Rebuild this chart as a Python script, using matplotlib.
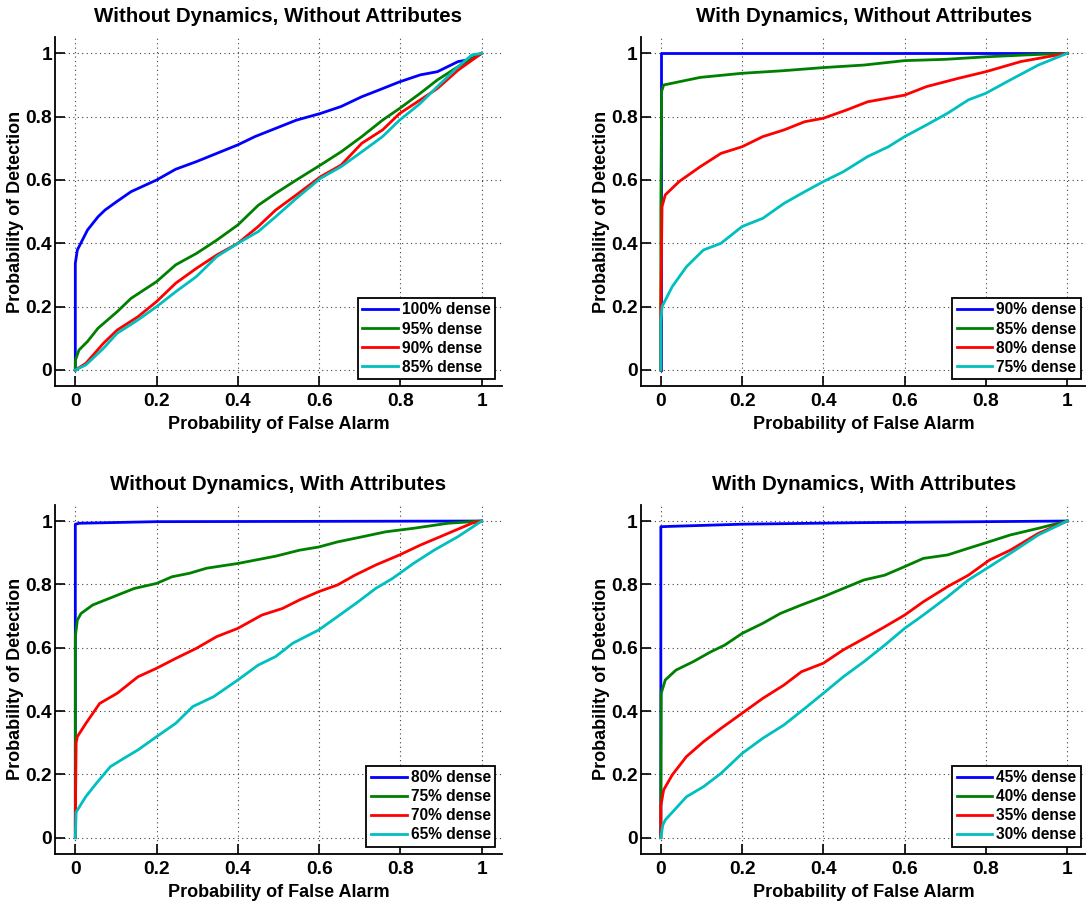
import matplotlib
matplotlib.use("Agg")
import matplotlib.pyplot as plt

plt.rcParams['font.family'] = ['Liberation Sans', 'DejaVu Sans']
plt.rcParams['font.weight'] = 'bold'

# ---------------- data ----------------
titles = ["Without Dynamics, Without Attributes", "With Dynamics, Without Attributes",
          "Without Dynamics, With Attributes", "With Dynamics, With Attributes"]
labels = [["100% dense", "95% dense", "90% dense", "85% dense"],
          ["90% dense", "85% dense", "80% dense", "75% dense"],
          ["80% dense", "75% dense", "70% dense", "65% dense"],
          ["45% dense", "40% dense", "35% dense", "30% dense"]]
xticks = [0, 0.2, 0.4, 0.6, 0.8, 1]
xtick_labels = ["0", "0.2", "0.4", "0.6", "0.8", "1"]

# Panel 1
p1_blue_x = [0, 0, 0.005, 0.03, 0.056, 0.073, 0.1, 0.137, 0.2, 0.247, 0.298, 0.35, 0.4, 0.442, 0.493, 0.544, 0.603, 0.654, 0.705, 0.747, 0.798, 0.849, 0.891, 0.942, 0.97, 1]
p1_blue_y = [0, 0.337, 0.379, 0.442, 0.484, 0.505, 0.53, 0.563, 0.6, 0.634, 0.658, 0.685, 0.711, 0.737, 0.763, 0.789, 0.81, 0.832, 0.863, 0.884, 0.91, 0.932, 0.942, 0.974, 0.98, 1]
p1_green_x = [0, 0, 0.009, 0.03, 0.056, 0.103, 0.137, 0.2, 0.247, 0.298, 0.348, 0.4, 0.45, 0.493, 0.544, 0.603, 0.654, 0.705, 0.756, 0.798, 0.849, 0.891, 0.942, 1]
p1_green_y = [0, 0.03, 0.063, 0.09, 0.132, 0.184, 0.226, 0.279, 0.332, 0.368, 0.41, 0.458, 0.52, 0.558, 0.6, 0.647, 0.689, 0.737, 0.789, 0.826, 0.874, 0.916, 0.958, 1]
p1_red_x = [0, 0.026, 0.069, 0.103, 0.154, 0.2, 0.247, 0.298, 0.348, 0.4, 0.45, 0.493, 0.544, 0.603, 0.654, 0.705, 0.756, 0.798, 0.849, 0.891, 0.942, 1]
p1_red_y = [0, 0.021, 0.084, 0.126, 0.168, 0.216, 0.274, 0.321, 0.363, 0.4, 0.453, 0.505, 0.553, 0.61, 0.647, 0.716, 0.758, 0.81, 0.853, 0.889, 0.947, 1]
p1_cyan_x = [0, 0.026, 0.069, 0.103, 0.154, 0.2, 0.247, 0.298, 0.348, 0.4, 0.45, 0.493, 0.544, 0.603, 0.654, 0.705, 0.756, 0.798, 0.849, 0.891, 0.942, 0.976, 1]
p1_cyan_y = [0, 0.016, 0.068, 0.116, 0.158, 0.2, 0.247, 0.295, 0.358, 0.4, 0.437, 0.484, 0.542, 0.605, 0.642, 0.689, 0.737, 0.789, 0.842, 0.895, 0.958, 0.995, 1]

# Panel 2
p2_blue_x = [0, 0, 1]
p2_blue_y = [0, 1, 1]
p2_green_x = [0, 0, 0.002, 0.007, 0.097, 0.2, 0.3, 0.4, 0.5, 0.6, 0.7, 0.8, 0.9, 1]
p2_green_y = [0, 0.5, 0.88, 0.9, 0.924, 0.937, 0.945, 0.955, 0.963, 0.977, 0.981, 0.989, 0.995, 1]
p2_red_x = [0, 0, 0.003, 0.011, 0.045, 0.097, 0.148, 0.2, 0.251, 0.303, 0.354, 0.4, 0.457, 0.509, 0.6, 0.654, 0.732, 0.8, 0.886, 0.99, 1]
p2_red_y = [0, 0.2, 0.516, 0.553, 0.595, 0.642, 0.684, 0.705, 0.737, 0.758, 0.784, 0.795, 0.821, 0.847, 0.868, 0.895, 0.921, 0.942, 0.974, 0.998, 1]
p2_cyan_x = [0, 0, 0.003, 0.028, 0.063, 0.105, 0.148, 0.2, 0.251, 0.303, 0.354, 0.4, 0.449, 0.509, 0.56, 0.6, 0.654, 0.706, 0.757, 0.8, 0.86, 0.929, 1]
p2_cyan_y = [0, 0.15, 0.2, 0.263, 0.326, 0.379, 0.4, 0.453, 0.479, 0.526, 0.563, 0.595, 0.626, 0.674, 0.705, 0.737, 0.774, 0.811, 0.853, 0.874, 0.916, 0.963, 1]

# Panel 3
p3_blue_x = [0, 0, 0.01, 0.2, 1]
p3_blue_y = [0, 0.99, 0.993, 0.998, 1]
p3_green_x = [0, 0, 0.005, 0.014, 0.043, 0.094, 0.145, 0.2, 0.238, 0.281, 0.323, 0.4, 0.493, 0.552, 0.599, 0.645, 0.705, 0.764, 0.832, 0.917, 1]
p3_green_y = [0, 0.635, 0.687, 0.708, 0.735, 0.761, 0.787, 0.803, 0.824, 0.835, 0.851, 0.866, 0.889, 0.908, 0.918, 0.934, 0.95, 0.966, 0.977, 0.993, 1]
p3_red_x = [0, 0, 0.002, 0.005, 0.026, 0.06, 0.103, 0.154, 0.2, 0.247, 0.298, 0.348, 0.4, 0.459, 0.51, 0.552, 0.599, 0.645, 0.688, 0.739, 0.798, 0.849, 0.908, 0.976, 1]
p3_red_y = [0, 0.05, 0.3, 0.319, 0.361, 0.424, 0.456, 0.508, 0.535, 0.566, 0.598, 0.635, 0.661, 0.703, 0.724, 0.751, 0.777, 0.798, 0.829, 0.861, 0.893, 0.924, 0.956, 0.993, 1]
p3_cyan_x = [0, 0.002, 0.005, 0.026, 0.052, 0.086, 0.12, 0.154, 0.2, 0.247, 0.289, 0.34, 0.4, 0.45, 0.493, 0.535, 0.599, 0.645, 0.696, 0.739, 0.781, 0.832, 0.883, 0.942, 1]
p3_cyan_y = [0, 0.08, 0.087, 0.13, 0.172, 0.224, 0.251, 0.277, 0.319, 0.361, 0.414, 0.445, 0.498, 0.545, 0.572, 0.614, 0.656, 0.698, 0.745, 0.787, 0.819, 0.866, 0.908, 0.951, 1]

# Panel 4
p4_blue_x = [0, 0, 0.02, 0.2, 0.5, 1]
p4_blue_y = [0, 0.982, 0.983, 0.99, 0.995, 1]
p4_green_x = [0, 0, 0.001, 0.011, 0.037, 0.08, 0.123, 0.157, 0.2, 0.251, 0.294, 0.346, 0.4, 0.449, 0.5, 0.551, 0.6, 0.646, 0.706, 0.757, 0.809, 0.86, 0.929, 1]
p4_green_y = [0, 0.1, 0.456, 0.498, 0.529, 0.556, 0.587, 0.608, 0.645, 0.677, 0.708, 0.735, 0.761, 0.787, 0.814, 0.829, 0.856, 0.882, 0.893, 0.914, 0.935, 0.956, 0.977, 1]
p4_red_x = [0, 0, 0.007, 0.028, 0.063, 0.105, 0.148, 0.2, 0.251, 0.303, 0.346, 0.4, 0.449, 0.5, 0.551, 0.6, 0.646, 0.706, 0.757, 0.809, 0.86, 0.929, 1]
p4_red_y = [0, 0.1, 0.151, 0.198, 0.256, 0.303, 0.345, 0.393, 0.44, 0.482, 0.524, 0.551, 0.593, 0.629, 0.666, 0.703, 0.745, 0.793, 0.829, 0.877, 0.908, 0.961, 1]
p4_cyan_x = [0, 0.005, 0.011, 0.063, 0.105, 0.148, 0.2, 0.251, 0.303, 0.354, 0.4, 0.449, 0.5, 0.551, 0.6, 0.646, 0.706, 0.757, 0.809, 0.86, 0.929, 1]
p4_cyan_y = [0, 0.04, 0.056, 0.129, 0.161, 0.203, 0.266, 0.314, 0.356, 0.408, 0.456, 0.508, 0.556, 0.608, 0.661, 0.703, 0.761, 0.814, 0.856, 0.898, 0.956, 1]

panels = [
    [(p1_blue_x, p1_blue_y), (p1_green_x, p1_green_y), (p1_red_x, p1_red_y), (p1_cyan_x, p1_cyan_y)],
    [(p2_blue_x, p2_blue_y), (p2_green_x, p2_green_y), (p2_red_x, p2_red_y), (p2_cyan_x, p2_cyan_y)],
    [(p3_blue_x, p3_blue_y), (p3_green_x, p3_green_y), (p3_red_x, p3_red_y), (p3_cyan_x, p3_cyan_y)],
    [(p4_blue_x, p4_blue_y), (p4_green_x, p4_green_y), (p4_red_x, p4_red_y), (p4_cyan_x, p4_cyan_y)],
]
colors = [(0, 0, 1), (0, 0.5, 0), (1, 0, 0), (0, 0.75, 0.75)]

W, H = 1086, 907
fig = plt.figure(figsize=(W / 100, H / 100), dpi=100)
# axes boxes in pixels: left, top, right, bottom
boxes = [(55, 37.5, 502, 385.8), (640.5, 37.5, 1087.5, 385.8),
         (55, 505.2, 502, 853.5), (640.5, 505.2, 1087.5, 853.5)]

for i, (l, t, r, b) in enumerate(boxes):
    ax = fig.add_axes([l / W, 1 - b / H, (r - l) / W, (b - t) / H])
    for (xs, ys), c, lab in zip(panels[i], colors, labels[i]):
        ax.plot(xs, ys, color=c, lw=2.0, label=lab, clip_on=False)
    ax.set_xlim(-0.05, 1.05)
    ax.set_ylim(-0.05, 1.05)
    ax.set_xticks(xticks)
    ax.set_xticklabels(xtick_labels)
    ax.set_yticks(xticks)
    ax.set_yticklabels(xtick_labels)
    ax.tick_params(direction='in', length=7, width=1.2, labelsize=13.8)
    ax.tick_params(axis='x', pad=5.5)
    ax.tick_params(axis='y', pad=2)
    for s in ['top', 'right']:
        ax.spines[s].set_visible(False)
    for s in ['left', 'bottom']:
        ax.spines[s].set_linewidth(1.3)
    ax.grid(True, color='0.25', linestyle=(0, (1, 3)), linewidth=0.8)
    ax.set_axisbelow(True)
    ax.set_title(titles[i], fontsize=14.8, fontweight='bold', pad=11)
    ax.set_xlabel("Probability of False Alarm", fontsize=13, fontweight='bold', labelpad=4)
    ax.set_ylabel("Probability of Detection", fontsize=13, fontweight='bold', labelpad=1)
    leg = ax.legend(loc='lower right', fontsize=11.2, frameon=True, fancybox=False,
                    handlelength=2.3, handletextpad=0.25, labelspacing=0.26,
                    borderpad=0.3, borderaxespad=0.42)
    leg.get_frame().set_edgecolor('black')
    leg.get_frame().set_linewidth(1.3)
    leg.get_frame().set_alpha(1)
    for t in leg.get_texts():
        t.set_fontweight('bold')

fig.savefig("out.png", dpi=100)
